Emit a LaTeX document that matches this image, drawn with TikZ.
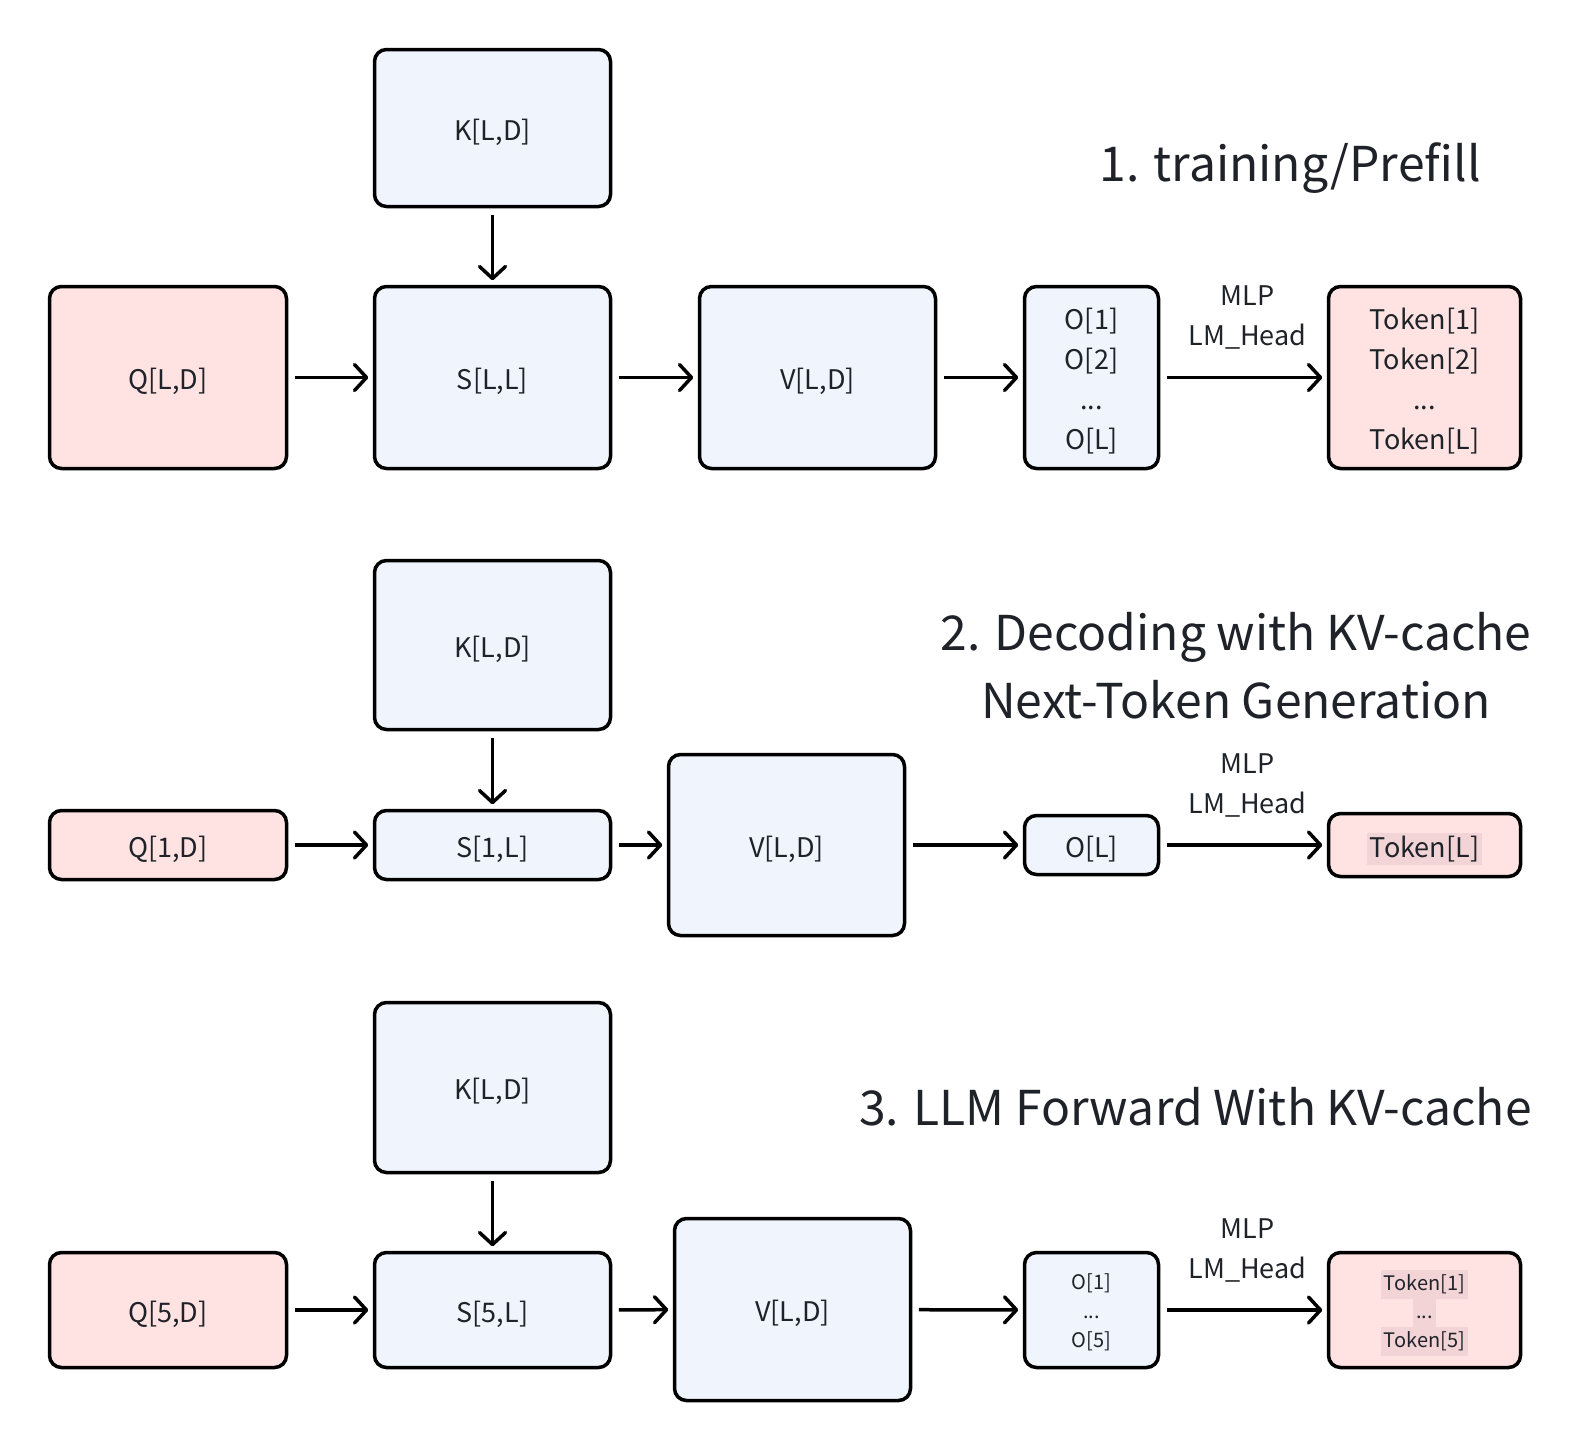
\documentclass[tikz,border=0pt]{standalone}
\usepackage{fontspec}
\setmainfont{Noto Sans CJK SC}
\usetikzlibrary{arrows.meta}
\definecolor{pinkc}{RGB}{255,226,226}
\definecolor{bluec}{RGB}{239,244,253}
\definecolor{hlc}{RGB}{242,212,214}
\definecolor{txt}{RGB}{31,35,41}
\newcommand\hlline[1]{\colorbox{hlc}{\rule[-8.5pt]{0pt}{28.5pt}#1}}
\newcommand\tx[2][-4pt]{\raisebox{#1}[\height][\depth]{\begin{tabular}{@{}c@{}}#2\end{tabular}}}
\begin{document}
\begin{tikzpicture}[x=1pt,y=-1pt,
 box/.style={draw=black, line width=3.5pt, rounded corners=12pt, text=txt, font=\fontsize{27}{40}\selectfont, inner sep=0pt},
 pinkbox/.style={box, fill=pinkc},
 bluebox/.style={box, fill=bluec},
 arr/.style={line width=3.5pt, -{Straight Barb[length=12pt,width=26pt,round]}, shorten <=6.5pt, shorten >=4.5pt},
 lbl/.style={text=txt, font=\fontsize{27}{40}\selectfont, align=center},
 ttl/.style={text=txt, font=\fontsize{48}{68}\selectfont, align=center}]
\useasboundingbox[fill=white] (0,0) rectangle (1582,1452);
% ---------- section 1
\node[bluebox, minimum width=236pt, minimum height=157pt] (k1) at (492.5,128) {\tx{K[L,D]}};
\node[pinkbox, minimum width=237pt, minimum height=182pt] (q1) at (168,377.5) {\tx{Q[L,D]}};
\node[bluebox, minimum width=236pt, minimum height=182pt] (s1) at (492.5,377.5) {\tx{S[L,L]}};
\node[bluebox, minimum width=236pt, minimum height=182pt] (v1) at (817.5,377.5) {\tx{V[L,D]}};
\node[bluebox, minimum width=134pt, minimum height=182pt] (o1) at (1091.5,377.5) {\tx{O[1]\\O[2]\\...\\O[L]}};
\node[pinkbox, minimum width=192pt, minimum height=182pt] (t1) at (1424.5,377.5) {\tx{Token[1]\\Token[2]\\...\\Token[L]}};
\draw[arr] (k1) -- (s1);
\draw[arr] (q1) -- (s1);
\draw[arr] (s1) -- (v1);
\draw[arr] (v1) -- (o1);
\draw[arr] (o1) -- (t1) node[lbl, midway, xshift=4pt, yshift=60pt] (m1) {MLP\\LM\_Head};
\node[ttl] (h1) at (1290,168) {1. training/Prefill};
% ---------- section 2
\node[bluebox, minimum width=236pt, minimum height=169pt] (k2) at (492.5,645) {\tx{K[L,D]}};
\node[pinkbox, minimum width=237pt, minimum height=69pt] (q2) at (168,845) {\tx{Q[1,D]}};
\node[bluebox, minimum width=236pt, minimum height=69pt] (s2) at (492.5,845) {\tx{S[1,L]}};
\node[bluebox, minimum width=236pt, minimum height=181pt] (v2) at (786.5,845) {\tx{V[L,D]}};
\node[bluebox, minimum width=134pt, minimum height=59pt] (o2) at (1091.5,845) {\tx{O[L]}};
\node[pinkbox, minimum width=192pt, minimum height=63pt] (t2) at (1424.5,845) {\tx{\colorbox{hlc}{Token[L]}}};
\draw[arr] (k2) -- (s2);
\draw[arr] (q2) -- (s2);
\draw[arr] (s2) -- (v2);
\draw[arr] (v2) -- (o2);
\draw[arr] (o2) -- (t2) node[lbl, midway, xshift=4pt, yshift=60pt] (m2) {MLP\\LM\_Head};
\node[ttl] (h2) at (1236,666) {2. Decoding with KV-cache\\Next-Token Generation};
% ---------- section 3
\node[bluebox, minimum width=236pt, minimum height=170pt] (k3) at (492.5,1087.5) {\tx{K[L,D]}};
\node[pinkbox, minimum width=237pt, minimum height=115pt] (q3) at (168,1310) {\tx{Q[5,D]}};
\node[bluebox, minimum width=236pt, minimum height=115pt] (s3) at (492.5,1310) {\tx{S[5,L]}};
\node[bluebox, minimum width=236pt, minimum height=182pt] (v3) at (792.5,1309.5) {\tx{V[L,D]}};
\node[bluebox, minimum width=134pt, minimum height=115pt, font=\fontsize{20}{29}\selectfont] (o3) at (1091.5,1310) {\tx[-3pt]{O[1]\\...\\O[5]}};
\node[pinkbox, minimum width=192pt, minimum height=115pt, font=\fontsize{20}{28.5}\selectfont] (t3) at (1424.5,1310) {\raisebox{-3pt}[\height][\depth]{\setlength\fboxsep{0pt}\renewcommand\arraystretch{1}\begin{tabular}{@{}c@{}}\hlline{\,Token[1]\,}\\[-0.2pt]\hlline{\,...\,}\\[-0.2pt]\hlline{\,Token[5]\,}\end{tabular}}};
\draw[arr] (k3) -- (s3);
\draw[arr] (q3) -- (s3);
\draw[arr] (s3) -- (v3);
\draw[arr] (v3) -- (o3);
\draw[arr] (o3) -- (t3) node[lbl, midway, xshift=4pt, yshift=60pt] (m3) {MLP\\LM\_Head};
\node[ttl] (h3) at (1195.5,1107) {3. LLM Forward With KV-cache};
\end{tikzpicture}
\end{document}
